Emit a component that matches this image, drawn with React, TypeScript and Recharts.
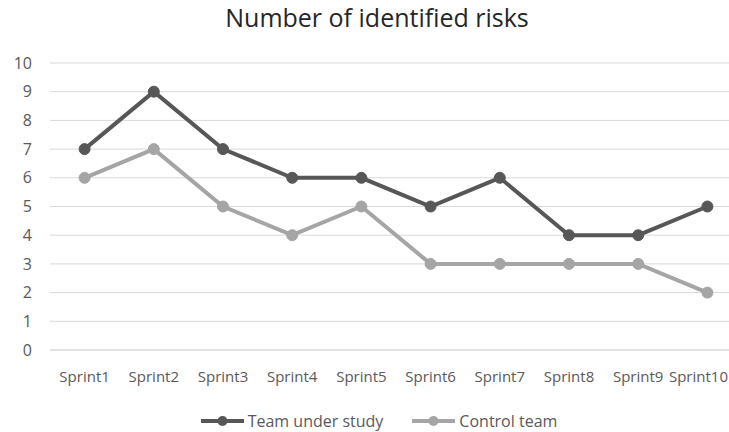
import { CartesianGrid, Legend, Line, LineChart, XAxis, YAxis } from 'recharts';

const sprints = ['Sprint1', 'Sprint2', 'Sprint3', 'Sprint4', 'Sprint5', 'Sprint6', 'Sprint7', 'Sprint8', 'Sprint9', 'Sprint10'];
const teamUnderStudy = [7, 9, 7, 6, 6, 5, 6, 4, 4, 5];
const controlTeam = [6, 7, 5, 4, 5, 3, 3, 3, 3, 2];
const yTicks = [0, 1, 2, 3, 4, 5, 6, 7, 8, 9, 10];

const DARK = '#575757';
const LIGHT = '#a5a5a5';
const FONT = '"Open Sans", sans-serif';
const VISIBLE_RIGHT = 728;

const data = sprints.map((name, i) => ({
  name,
  team: teamUnderStudy[i],
  control: controlTeam[i],
}));

const legendItems = [
  { label: 'Team under study', color: DARK },
  { label: 'Control team', color: LIGHT },
];

function LegendContent() {
  return (
    <div
      style={{
        display: 'flex',
        justifyContent: 'center',
        gap: 29,
        paddingTop: 10,
        paddingLeft: 16,
        fontFamily: FONT,
        fontSize: 16,
        color: '#595959',
        lineHeight: '22px',
      }}
    >
      {legendItems.map((it) => (
        <div key={it.label} style={{ display: 'flex', alignItems: 'center' }}>
          <svg width={43} height={12}>
            <line x1={0} y1={6} x2={43} y2={6} stroke={it.color} strokeWidth={4} />
            <circle cx={21.5} cy={6} r={5} fill={it.color} />
          </svg>
          <span style={{ marginLeft: 4 }}>{it.label}</span>
        </div>
      ))}
    </div>
  );
}

// Excel nudges the last label so it stays inside the chart area
function SprintTick({ x, y, payload }: any) {
  const half = String(payload.value).length * 3.8;
  const clamp = x + half > VISIBLE_RIGHT;
  return (
    <text
      x={clamp ? VISIBLE_RIGHT : x}
      y={y}
      dy={12}
      textAnchor={clamp ? 'end' : 'middle'}
      fill="#595959"
      fontSize={15}
      fontFamily={FONT}
    >
      {payload.value}
    </text>
  );
}

export default function App() {
  return (
    <div style={{ position: 'absolute', left: 0, top: 0, width: 729, height: 432, overflow: 'hidden', background: '#fff' }}>
      <div
        style={{
          position: 'absolute',
          top: 2,
          left: 0,
          width: 754,
          textAlign: 'center',
          fontFamily: FONT,
          fontSize: 25,
          lineHeight: '30px',
          color: '#262626',
        }}
      >
        Number of identified risks
      </div>
      <div style={{ position: 'absolute', left: 0, top: 0 }}>
        <LineChart width={766} height={432} data={data} margin={{ top: 63, right: 24, left: 0, bottom: 0 }}>
          <CartesianGrid vertical={false} stroke="#d9d9d9" />
          <XAxis
            dataKey="name"
            axisLine={{ stroke: '#d9d9d9' }}
            tickLine={false}
            tick={<SprintTick />}
            tickMargin={14}
            height={50}
            interval={0}
            padding={{ left: 34.6, right: 34.6 }}
          />
          <YAxis
            domain={[0, 10]}
            ticks={yTicks}
            width={50}
            axisLine={false}
            tickLine={false}
            tick={{ fill: '#595959', fontSize: 16, fontFamily: FONT }}
            tickMargin={12}
          />
          <Legend verticalAlign="bottom" height={32} content={<LegendContent />} />
          <Line dataKey="control" name="Control team" stroke={LIGHT} strokeWidth={4} dot={{ r: 5.5, fill: LIGHT, stroke: LIGHT, strokeWidth: 1 }} isAnimationActive={false} />
          <Line dataKey="team" name="Team under study" stroke={DARK} strokeWidth={4} dot={{ r: 5.5, fill: DARK, stroke: DARK, strokeWidth: 1 }} isAnimationActive={false} />
        </LineChart>
      </div>
    </div>
  );
}
